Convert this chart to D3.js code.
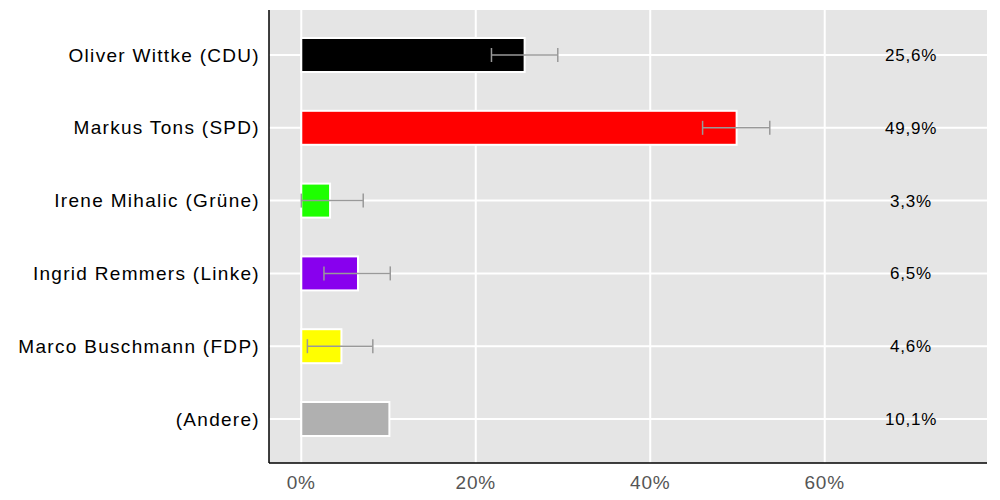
<!DOCTYPE html><html><head><meta charset="utf-8"><script src="https://cdn.jsdelivr.net/npm/d3@7"></script>
<style>body{margin:0;background:#fff}text{font-family:"Liberation Sans",Arial,sans-serif}</style></head><body><svg id="c" width="1000" height="500"></svg><script>
const categories=["Oliver Wittke (CDU)","Markus Tons (SPD)","Irene Mihalic (Grüne)","Ingrid Remmers (Linke)","Marco Buschmann (FDP)","(Andere)"];
const values=[25.6,49.9,3.3,6.5,4.6,10.1];
const errLow=[21.8,46.0,0,2.6,0.7,null];
const errHigh=[29.4,53.7,7.1,10.2,8.2,null];
const colors=["#000000","#ff0000","#1eff00","#8800ee","#ffff00","#b0b0b0"];
const ticks=[0,20,40,60];
const svg=d3.select("#c");
const L=269,R=987,T=10,B=463;
const x=d3.scaleLinear().domain([-3.7,78.6]).range([L,R]);
const y=d3.scaleBand().domain(categories).range([18.6,455.4]);
svg.append("rect").attr("x",L).attr("y",T).attr("width",R-L).attr("height",B-T).attr("fill","#e5e5e5");
ticks.forEach(t=>svg.append("line").attr("x1",x(t)).attr("x2",x(t)).attr("y1",T).attr("y2",B).attr("stroke","#fff").attr("stroke-width",2));
categories.forEach(c=>svg.append("line").attr("x1",L).attr("x2",R).attr("y1",y(c)+y.bandwidth()/2).attr("y2",y(c)+y.bandwidth()/2).attr("stroke","#fff").attr("stroke-width",2));
const bh=34;
categories.forEach((c,i)=>{const cy=y(c)+y.bandwidth()/2;
svg.append("rect").attr("x",x(0)).attr("y",cy-bh/2).attr("width",x(values[i])-x(0)).attr("height",bh).attr("fill",colors[i]).attr("stroke","#fff").attr("stroke-width",2);
if(errLow[i]!=null){const g=svg.append("g").attr("stroke","#999").attr("stroke-width",1.5);
g.append("line").attr("x1",x(errLow[i])).attr("x2",x(errHigh[i])).attr("y1",cy).attr("y2",cy);
[errLow[i],errHigh[i]].forEach(v=>g.append("line").attr("x1",x(v)).attr("x2",x(v)).attr("y1",cy-7).attr("y2",cy+7));}
svg.append("text").attr("x",911).attr("y",cy).attr("dy","0.35em").attr("text-anchor","middle").attr("font-size",17).attr("letter-spacing",0.8).text(values[i].toFixed(1).replace(".",",")+"%");
svg.append("text").attr("x",260).attr("y",cy).attr("dy","0.35em").attr("text-anchor","end").attr("font-size",19).attr("letter-spacing",1.3).text(c);
});
ticks.forEach(t=>svg.append("text").attr("x",x(t)).attr("y",489).attr("text-anchor","middle").attr("font-size",19).attr("letter-spacing",0.8).attr("fill","#555").text(t+"%"));
svg.append("line").attr("x1",L).attr("x2",L).attr("y1",T).attr("y2",B).attr("stroke","#000").attr("stroke-width",1.5);
svg.append("line").attr("x1",L).attr("x2",R).attr("y1",B).attr("y2",B).attr("stroke","#000").attr("stroke-width",1.5);
</script></body></html>
